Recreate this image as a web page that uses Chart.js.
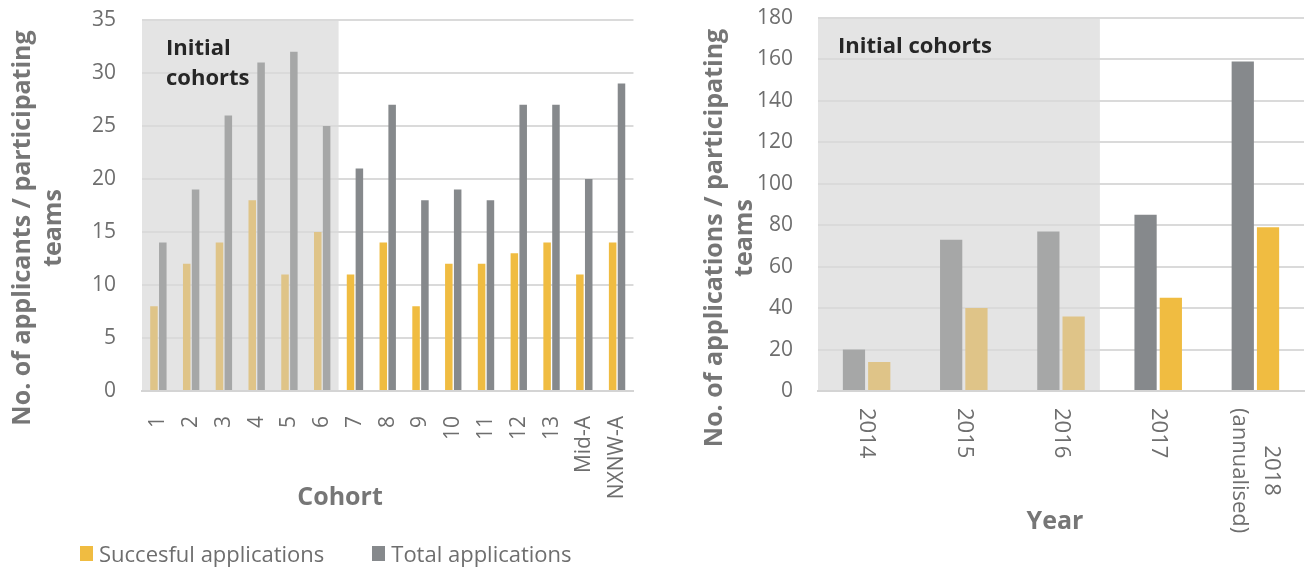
<!DOCTYPE html>
<html>
<head>
<meta charset="utf-8">
<script src="https://cdn.jsdelivr.net/npm/chart.js@4.4.0/dist/chart.umd.min.js"></script>
<style>
    html, body { margin: 0; padding: 0; background: #fff; }
    body { width: 1306px; height: 572px; position: relative; overflow: hidden; font-family: 'Open Sans', sans-serif; }
    .chart-box { position: absolute; top: 0; height: 572px; }
    #leftBox { left: 0; width: 660px; }
    #rightBox { left: 660px; width: 646px; }
    .legend { position: absolute; left: 80px; top: 538px; display: flex; align-items: center; font-size: 22px; color: #6e6e6e; }
    .legend .item { display: flex; align-items: center; margin-right: 48px; }
    .legend .swatch { display: inline-block; width: 13px; height: 15px; margin-right: 6px; }
</style>
</head>
<body>
<div class="chart-box" id="leftBox"><canvas id="cohortChart"></canvas></div>
<div class="chart-box" id="rightBox"><canvas id="yearChart"></canvas></div>
<div class="legend">
    <div class="item"><span class="swatch" style="background:#f0bc41"></span>Succesful applications</div>
    <div class="item"><span class="swatch" style="background:#86898c"></span>Total applications</div>
</div>
<script>
// Left chart: applications per cohort
const cohortLabels = ['1', '2', '3', '4', '5', '6', '7', '8', '9', '10', '11', '12', '13', 'Mid-A', 'NXNW-A'];
const cohortSuccessful = [8, 12, 14, 18, 11, 15, 11, 14, 8, 12, 12, 13, 14, 11, 14];
const cohortTotal = [14, 19, 26, 31, 32, 25, 21, 27, 18, 19, 18, 27, 27, 20, 29];
const initialCohortCount = 6;
const cohortTicks = { min: 0, max: 35, step: 5 };

// Right chart: applications per year
const yearLabels = ['2014', '2015', '2016', '2017', ['2018', '(annualised)']];
const yearTotal = [20, 73, 77, 85, 159];
const yearSuccessful = [14, 40, 36, 45, 79];
const initialYearCount = 3;
const yearTicks = { min: 0, max: 180, step: 20 };

const YELLOW = '#f0bc41';
const YELLOW_MUTED = '#dfc488';
const GREY = '#86898c';
const GREY_MUTED = '#a6a7a7';
const TICK_COLOR = '#6e6e6e';
const TITLE_COLOR = '#767676';
const FONT = '"Open Sans", sans-serif';

Chart.defaults.animation = false;
Chart.defaults.font.family = FONT;

function barColors(values, initialCount, muted, bright) {
    return values.map((v, i) => i < initialCount ? muted : bright);
}

// grey box behind the "initial" categories
const shadePlugin = {
    id: 'initialShade',
    beforeDraw(chart, args, opts) {
        const { ctx, chartArea, scales: { x } } = chart;
        const right = x.getPixelForValue(opts.until);
        ctx.save();
        ctx.fillStyle = '#e4e4e4';
        ctx.fillRect(chartArea.left, chartArea.top, right - chartArea.left, chartArea.bottom - chartArea.top);
        ctx.restore();
    }
};

// free text: axis titles and the box caption
const textPlugin = {
    id: 'extraText',
    afterDraw(chart, args, opts) {
        const ctx = chart.ctx;
        opts.items.forEach(t => {
            ctx.save();
            ctx.font = t.font;
            ctx.fillStyle = t.color;
            ctx.textAlign = t.align || 'center';
            ctx.textBaseline = 'middle';
            ctx.translate(t.x, t.y);
            if (t.rotate) ctx.rotate(t.rotate);
            ctx.fillText(t.text, 0, 0);
            ctx.restore();
        });
    }
};

// x labels turned clockwise (read top to bottom), multi-line centred
const downLabelsPlugin = {
    id: 'downLabels',
    afterDraw(chart, args, opts) {
        const { ctx, scales: { x } } = chart;
        ctx.save();
        ctx.font = opts.font;
        ctx.fillStyle = opts.color;
        ctx.textAlign = 'center';
        ctx.textBaseline = 'middle';
        chart.data.labels.forEach((label, i) => {
            const lines = [].concat(label);
            const widest = Math.max(...lines.map(l => ctx.measureText(l).width));
            ctx.save();
            ctx.translate(x.getPixelForTick(i), x.top + opts.padding);
            ctx.rotate(Math.PI / 2);
            lines.forEach((line, j) => {
                ctx.fillText(line, widest / 2, (j - (lines.length - 1) / 2) * opts.lineHeight);
            });
            ctx.restore();
        });
        ctx.restore();
    }
};

function yScale(ticks, width, padding) {
    return {
        min: ticks.min,
        max: ticks.max,
        afterFit(scale) {
            scale.width = width;
            // tick padding would otherwise push the plot top down
            scale.paddingTop = 0;
            scale.paddingBottom = 0;
        },
        border: { display: false },
        grid: { color: '#dadada', lineWidth: 2, drawTicks: false },
        ticks: {
            stepSize: ticks.step,
            padding: padding,
            color: TICK_COLOR,
            font: { size: 21 }
        }
    };
}

const titleFont = 'bold 25px ' + FONT;
const captionFont = 'bold 22px ' + FONT;

new Chart(document.getElementById('cohortChart'), {
    type: 'bar',
    data: {
        labels: cohortLabels,
        datasets: [{
            label: 'Succesful applications',
            data: cohortSuccessful,
            backgroundColor: barColors(cohortSuccessful, initialCohortCount, YELLOW_MUTED, YELLOW),
            categoryPercentage: 0.54,
            barPercentage: 0.85
        }, {
            label: 'Total applications',
            data: cohortTotal,
            backgroundColor: barColors(cohortTotal, initialCohortCount, GREY_MUTED, GREY),
            categoryPercentage: 0.54,
            barPercentage: 0.85
        }]
    },
    plugins: [shadePlugin, textPlugin],
    options: {
        responsive: true,
        maintainAspectRatio: false,
        layout: { autoPadding: false, padding: { top: 20, right: 22, left: 0, bottom: 0 } },
        plugins: {
            legend: { display: false },
            tooltip: { enabled: false },
            initialShade: { until: initialCohortCount - 0.5 },
            extraText: {
                items: [
                    { text: 'Initial', x: 166, y: 49, align: 'left', font: captionFont, color: '#262626' },
                    { text: 'cohorts', x: 166, y: 79, align: 'left', font: captionFont, color: '#262626' },
                    { text: 'No. of applicants / participating', x: 23, y: 228, rotate: -Math.PI / 2, font: titleFont, color: TITLE_COLOR },
                    { text: 'teams', x: 54, y: 228, rotate: -Math.PI / 2, font: titleFont, color: TITLE_COLOR },
                    { text: 'Cohort', x: 340, y: 498, font: titleFont, color: TITLE_COLOR }
                ]
            }
        },
        scales: {
            x: {
                afterFit(scale) { scale.height = 181; },
                border: { color: '#d4d4d4', width: 2 },
                grid: { display: false },
                ticks: {
                    autoSkip: false,
                    minRotation: 90,
                    maxRotation: 90,
                    padding: 17,
                    color: TICK_COLOR,
                    font: { size: 21 }
                }
            },
            y: yScale(cohortTicks, 142, 26)
        }
    }
});

new Chart(document.getElementById('yearChart'), {
    type: 'bar',
    data: {
        labels: yearLabels,
        datasets: [{
            label: 'Total applications',
            data: yearTotal,
            backgroundColor: barColors(yearTotal, initialYearCount, GREY_MUTED, GREY),
            categoryPercentage: 0.52,
            barPercentage: 0.88
        }, {
            label: 'Succesful applications',
            data: yearSuccessful,
            backgroundColor: barColors(yearSuccessful, initialYearCount, YELLOW_MUTED, YELLOW),
            categoryPercentage: 0.52,
            barPercentage: 0.88
        }]
    },
    plugins: [shadePlugin, textPlugin, downLabelsPlugin],
    options: {
        responsive: true,
        maintainAspectRatio: false,
        layout: { autoPadding: false, padding: { top: 18, right: 2, left: 0, bottom: 0 } },
        plugins: {
            legend: { display: false },
            tooltip: { enabled: false },
            initialShade: { until: initialYearCount - 0.6 },
            downLabels: { font: '22px ' + FONT, color: TICK_COLOR, padding: 17, lineHeight: 32 },
            extraText: {
                items: [
                    { text: 'Initial cohorts', x: 178, y: 47, align: 'left', font: captionFont, color: '#262626' },
                    { text: 'No. of applications / participating', x: 55, y: 238, rotate: -Math.PI / 2, font: titleFont, color: TITLE_COLOR },
                    { text: 'teams', x: 85, y: 238, rotate: -Math.PI / 2, font: titleFont, color: TITLE_COLOR },
                    { text: 'Year', x: 395, y: 522, font: titleFont, color: TITLE_COLOR }
                ]
            }
        },
        scales: {
            x: {
                afterFit(scale) { scale.height = 181; },
                border: { color: '#d4d4d4', width: 2 },
                grid: { display: false },
                ticks: { display: false }
            },
            y: yScale(yearTicks, 158, 25)
        }
    }
});
</script>
</body>
</html>
